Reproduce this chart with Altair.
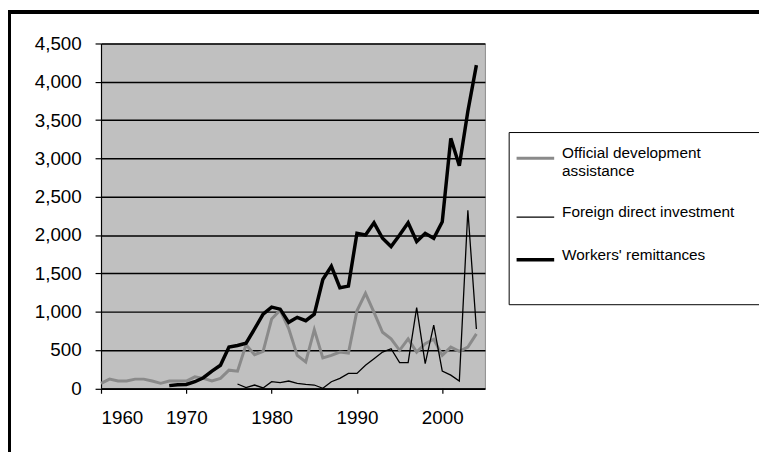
import altair as alt
import pandas as pd

years = list(range(1960, 2005))

oda = [65, 120, 95, 95, 120, 120, 95, 65, 95, 95,
       95, 150, 130, 95, 130, 237, 224, 568, 439, 482,
       904, 1020, 780, 430, 344, 766, 396, 430, 473, 460,
       1011, 1239, 990, 732, 645, 495, 645, 473, 581, 640,
       430, 538, 482, 538, 710]

fdi = [None] * 16 + [
       56, 10, 43, 5,
       86, 73, 95, 65, 52, 43, 0, 86, 129, 194,
       194, 301, 387, 473, 516, 336, 336, 1054, 323, 826,
       224, 172, 95, 2324, 775]

remit = [None] * 8 + [
       35, 46,
       50, 86, 138, 224, 301, 538, 559, 589, 775, 968,
       1060, 1033, 861, 926, 882, 968, 1420, 1592, 1313, 1334,
       2023, 2001, 2160, 1958, 1850, 2001, 2160, 1915, 2023, 1958,
       2173, 3262, 2905, 3615, 4217]

series_names = ["Official development assistance", "Foreign direct investment", "Workers' remittances"]
series_colors = ["#8a8a8a", "#000000", "#000000"]
series_widths = [3, 1.3, 3.5]

rows = []
for name, vals in zip(series_names, [oda, fdi, remit]):
    for yr, v in zip(years, vals):
        if v is not None:
            rows.append({"year": yr, "value": v, "series": name})
df = pd.DataFrame(rows)

FONT = "Liberation Sans"

legend = alt.Legend(
    title=None, orient="none", legendX=412, legendY=89.5,
    symbolType="stroke", symbolSize=1444,
    labelFont=FONT, labelFontSize=15.5, labelColor="black", labelBaseline="alphabetic",
    labelOffset=6, labelLimit=400, rowPadding=18,
    strokeColor="black", fillColor="white", padding=6,
    labelExpr=("datum.label == 'Official development assistance' ? ['Official development', 'assistance'] : "
               "datum.label == 'Foreign direct investment' ? datum.label + '\u2800\u2800' : "
               "[datum.label, '\u00a0', '\u00a0']"))

lines = alt.Chart(df).mark_line(strokeJoin="miter").encode(
    x=alt.X("year:Q",
            scale=alt.Scale(domain=[1960, 2005], nice=False, zero=False),
            axis=alt.Axis(values=[1960, 1970, 1980, 1990, 2000], format="d", title=None,
                          grid=False, tickSize=5, tickColor="black", domainColor="black",
                          labelFont=FONT, labelFontSize=19, labelColor="black",
                          labelPadding=16, tickWidth=1.2, domainWidth=1.2)),
    y=alt.Y("value:Q",
            scale=alt.Scale(domain=[0, 4500], nice=False),
            axis=alt.Axis(values=list(range(0, 4501, 500)), format=",.0f", title=None,
                          grid=True, gridColor="black", gridWidth=1.5, gridOpacity=1,
                          tickSize=6, tickColor="black", domainColor="black",
                          labelFont=FONT, labelFontSize=19, labelColor="black",
                          labelPadding=14, tickWidth=1.2, domainWidth=1.2)),
    color=alt.Color("series:N",
                    scale=alt.Scale(domain=series_names, range=series_colors),
                    legend=legend),
    strokeWidth=alt.StrokeWidth("series:N",
                                scale=alt.Scale(type="ordinal", domain=series_names, range=series_widths),
                                legend=legend),
    order=alt.Order("year:Q"),
)

frame = alt.Chart(df).mark_rect(filled=False, stroke="black", strokeWidth=3).encode(
    x=alt.value(-92.5), x2=alt.value(800), y=alt.value(-32), y2=alt.value(600)
)

chart = alt.layer(lines, frame).properties(
    width=388, height=348.5,
    autosize=alt.AutoSizeParams(type="none"),
    padding={"left": 94, "top": 33.5, "right": 277, "bottom": 62},
    background="white",
).configure_view(fill="#c0c0c0", stroke="#8c8c8c", strokeWidth=1)

chart.save("out.html", embed_options={"renderer": "svg", "actions": False})
